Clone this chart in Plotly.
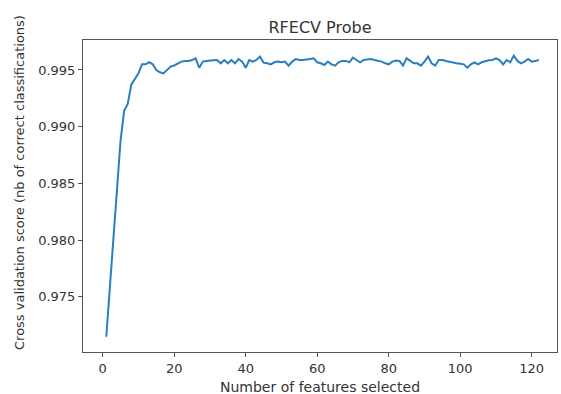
import plotly.graph_objects as go

n_features = list(range(1, 123))
cv_scores = [
    0.97147, 0.9760, 0.9805, 0.9848, 0.9888, 0.9914, 0.9920, 0.9937, 0.9942, 0.9947,
    0.9955, 0.9955, 0.9957, 0.9955, 0.9950, 0.9948, 0.9947, 0.9950, 0.9953, 0.9954,
    0.9956, 0.99574, 0.9958, 0.9958, 0.99588, 0.99603, 0.9952, 0.99574, 0.9958, 0.9958,
    0.99585, 0.99588, 0.99559, 0.99588, 0.99559, 0.99588, 0.99559, 0.99597, 0.99574, 0.9952,
    0.99588, 0.99574, 0.99588, 0.99618, 0.99565, 0.99559, 0.9955, 0.99568, 0.99574, 0.99568,
    0.99574, 0.99538, 0.99574, 0.99597, 0.99588, 0.99588, 0.9959, 0.99597, 0.99603, 0.99568,
    0.99559, 0.99544, 0.99574, 0.9955, 0.99538, 0.99568, 0.9958, 0.9958, 0.99568, 0.99609,
    0.99588, 0.99568, 0.99588, 0.99594, 0.99597, 0.99588, 0.9958, 0.99574, 0.99559, 0.9955,
    0.99574, 0.99583, 0.9958, 0.99538, 0.99603, 0.9958, 0.99559, 0.99559, 0.99538, 0.99574,
    0.99618, 0.99559, 0.99538, 0.99588, 0.99588, 0.9958, 0.99571, 0.99562, 0.99559, 0.99556,
    0.9955, 0.9952, 0.9955, 0.99568, 0.9955, 0.99568, 0.9958, 0.99585, 0.99588, 0.99603,
    0.99588, 0.9955, 0.99588, 0.99568, 0.99627, 0.9958, 0.99559, 0.99574, 0.99597, 0.99574,
    0.9958, 0.99588,
]

x_ticks = [0, 20, 40, 60, 80, 100, 120]
y_ticks = [0.975, 0.980, 0.985, 0.990, 0.995]
y_tick_text = ["0.975", "0.980", "0.985", "0.990", "0.995"]

title_text = "RFECV Probe"
x_label = "Number of features selected"
y_label = "Cross validation score (nb of correct classifications)"

font_family = "DejaVu Sans"
text_color = "#333333"
frame_color = "#555555"

fig = go.Figure()
fig.add_trace(go.Scatter(
    x=n_features, y=cv_scores, mode="lines",
    line=dict(color="#2a7fbd", width=2),
    showlegend=False, hoverinfo="skip",
))

fig.update_layout(
    width=561, height=394,
    margin=dict(l=83, r=4, t=40, b=42),
    paper_bgcolor="white", plot_bgcolor="white",
    font=dict(family=font_family, color=text_color),
    title=dict(text=title_text, x=0.5, xref="paper", xanchor="center",
               y=1 - 27 / 394, yref="container", yanchor="middle",
               font=dict(size=16, family=font_family, color=text_color)),
    xaxis=dict(
        range=[-5.51, 127.08], tickvals=x_ticks,
        showgrid=False, zeroline=False,
        showline=True, mirror=True, linecolor=frame_color, linewidth=1,
        ticks="outside", ticklen=4, tickcolor=frame_color, tickwidth=1,
        tickfont=dict(size=13, family=font_family, color=text_color),
    ),
    yaxis=dict(
        range=[0.970123, 0.997646], tickvals=y_ticks, ticktext=y_tick_text,
        showgrid=False, zeroline=False,
        showline=True, mirror=True, linecolor=frame_color, linewidth=1,
        ticks="outside", ticklen=4, tickcolor=frame_color, tickwidth=1,
        tickfont=dict(size=13, family=font_family, color=text_color),
    ),
    annotations=[
        dict(text=x_label, xref="paper", yref="paper", x=0.5, y=-0.112,
             xanchor="center", yanchor="middle", showarrow=False,
             font=dict(size=14, family=font_family, color=text_color)),
        dict(text=y_label, xref="paper", yref="paper", x=-0.1329, y=0.5417,
             xanchor="center", yanchor="middle", showarrow=False, textangle=-90,
             font=dict(size=13, family=font_family, color=text_color)),
    ],
)

fig.write_html(
    "out.html",
    config={"displayModeBar": False, "staticPlot": True},
    post_script="document.body.style.margin='0';document.body.style.overflow='hidden';",
)
